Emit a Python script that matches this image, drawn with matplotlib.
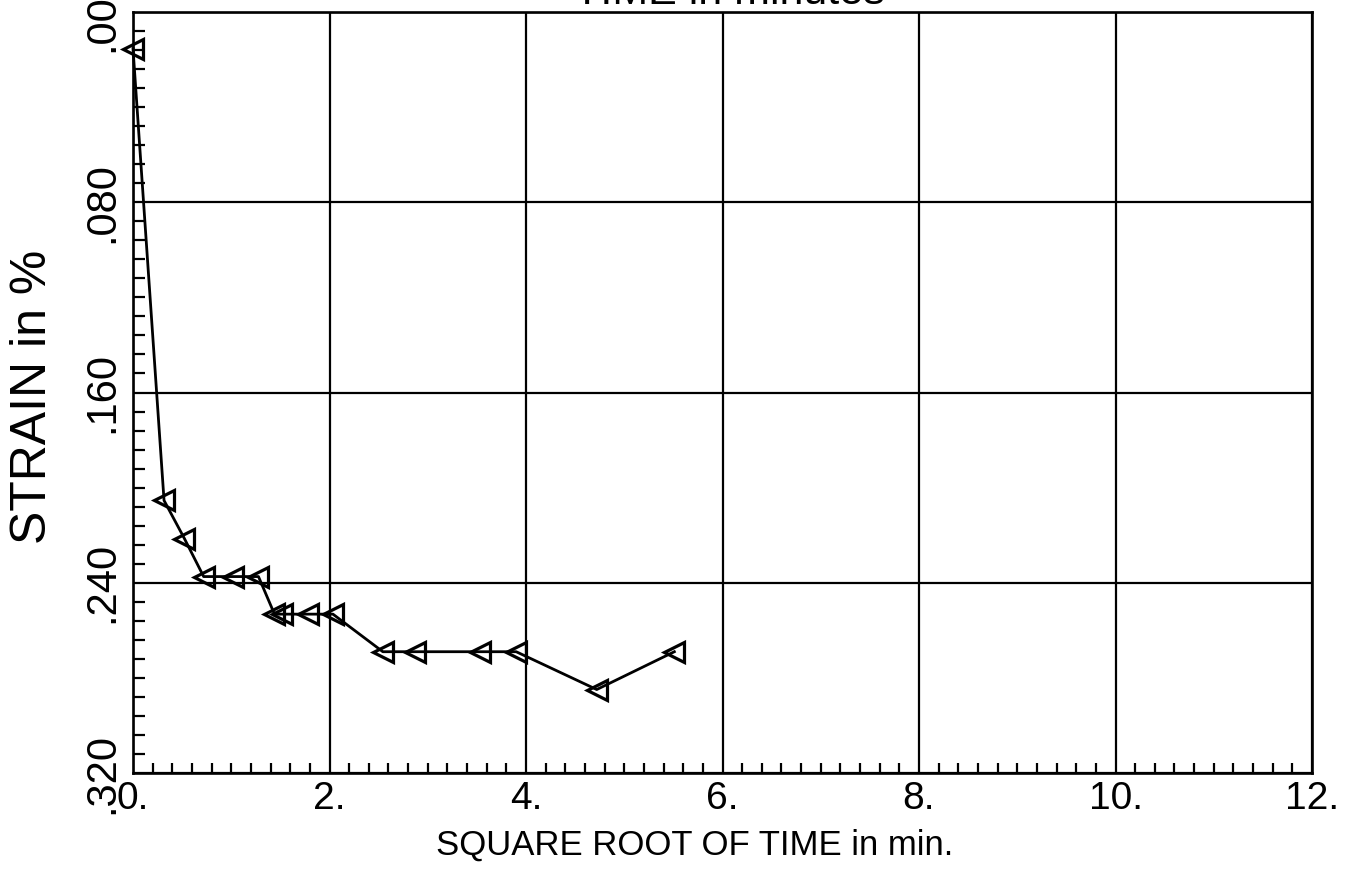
import matplotlib
matplotlib.use("Agg")
import matplotlib.pyplot as plt
from matplotlib.ticker import MultipleLocator, FixedLocator

plt.rcParams['font.family'] = ['Liberation Sans', 'DejaVu Sans']

# ---- data ----
sqrt_time = [0.0, 0.316, 0.523, 0.719, 1.016, 1.277, 1.44, 1.52, 1.777, 2.035,
             2.543, 2.871, 3.53, 3.90, 4.72, 5.51]
strain = [0.0154, 0.2054, 0.2214, 0.2374, 0.2374, 0.2374, 0.2532, 0.2532, 0.2532, 0.2532,
          0.2690, 0.2690, 0.2690, 0.2690, 0.2849, 0.2690]

x_ticks = [0, 2, 4, 6, 8, 10, 12]
x_tick_labels = ["0.", "2.", "4.", "6.", "8.", "10.", "12."]
y_ticks = [0.0, 0.08, 0.16, 0.24, 0.32]
y_tick_labels = [".000", ".080", ".160", ".240", ".320"]

W, H = 1359, 884
fig = plt.figure(figsize=(W / 100, H / 100), dpi=100)
left, right, top, bottom = 133, 1312, 12, 773
ax = fig.add_axes([left / W, 1 - bottom / H, (right - left) / W, (bottom - top) / H])

ax.plot(sqrt_time, strain, color='black', lw=2.0, marker='<', ms=14,
        mfc='none', mec='black', mew=2.3, zorder=3, clip_on=False)

ax.set_xlim(0, 12)
ax.set_ylim(0.32, 0.0)

ax.xaxis.set_major_locator(FixedLocator(x_ticks))
ax.set_xticklabels(x_tick_labels, fontsize=28)
ax.yaxis.set_major_locator(FixedLocator(y_ticks))
ax.set_yticklabels(y_tick_labels, fontsize=30, rotation=90, va='center')
ax.xaxis.set_minor_locator(MultipleLocator(0.2))
ax.yaxis.set_minor_locator(MultipleLocator(0.008))

ax.tick_params(which='major', direction='in', length=0, width=1.5)
ax.tick_params(axis='x', which='major', pad=6)
ax.tick_params(axis='y', which='major', pad=8)
ax.tick_params(axis='x', which='minor', direction='in', length=7, width=1.6)
ax.tick_params(axis='y', which='minor', direction='in', length=8.5, width=1.6)
ax.tick_params(top=False, right=False, which='both')

ax.grid(True, which='major', color='black', lw=1.6)
for s in ax.spines.values():
    s.set_linewidth(1.9)
    s.set_color('black')

fig.text(695 / W, 1 - 855 / H, "SQUARE ROOT OF TIME in min.", fontsize=25,
         ha='center', va='baseline')
fig.text(46 / W, 1 - 397 / H, "STRAIN in %", fontsize=36, rotation=90,
         rotation_mode='anchor', ha='center', va='baseline')
fig.text(729 / W, 1 - 4 / H, "TIME in minutes", fontsize=31,
         ha='center', va='baseline')

fig.savefig("out.png", dpi=100)
